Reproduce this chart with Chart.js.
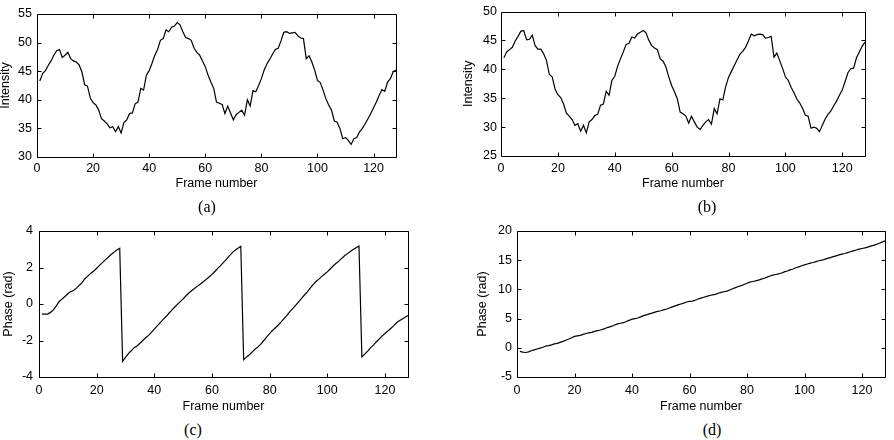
<!DOCTYPE html>
<html>
<head>
<meta charset="utf-8">
<script src="https://cdn.jsdelivr.net/npm/chart.js@4"></script>
<style>
  body { margin: 0; background: #fff; width: 894px; height: 440px; position: relative; overflow: hidden; }
  canvas { position: absolute; }
  .cap { position: absolute; font-family: "Liberation Serif", "Times New Roman", serif; font-size: 16px; color: #000; transform: translate(-50%, -50%); }
</style>
</head>
<body>
<canvas id="chartA"></canvas>
<canvas id="chartB"></canvas>
<canvas id="chartC"></canvas>
<canvas id="chartD"></canvas>
<div class="cap" style="left:207px;top:207px">(a)</div>
<div class="cap" style="left:707px;top:207px">(b)</div>
<div class="cap" style="left:193px;top:430px">(c)</div>
<div class="cap" style="left:712px;top:430px">(d)</div>
<script>
// frame numbers (x)
const frames = [1,2,3,4,5,6,7,8,9,10,11,12,13,14,15,16,17,18,19,20,21,22,23,24,25,26,27,28,29,30,31,32,
  33,34,35,36,37,38,39,40,41,42,43,44,45,46,47,48,49,50,51,52,53,54,55,56,57,58,59,60,61,62,63,64,
  65,66,67,68,69,70,71,72,73,74,75,76,77,78,79,80,81,82,83,84,85,86,87,88,89,90,91,92,93,94,95,96,
  97,98,99,100,101,102,103,104,105,106,107,108,109,110,111,112,113,114,115,116,117,118,119,120,121,122,123,124,125,126,127,128];

// (a) intensity
const intensityA = [43.3,44.6,45.1,46.0,46.8,47.8,48.6,48.8,47.4,47.8,48.3,47.2,46.8,46.6,46.1,44.9,
  42.6,42.4,40.3,39.5,39.1,38.2,36.7,36.3,35.8,35.1,35.3,34.4,35.3,34.2,36.0,36.5,
  37.6,37.7,39.3,39.6,42.0,41.7,44.3,45.1,46.4,47.8,48.8,50.4,50.7,52.2,51.9,52.7,
  52.9,53.5,53.1,51.9,50.9,50.7,50.4,49.0,48.3,47.8,46.8,45.8,44.3,43.1,42.0,39.6,
  39.4,39.2,37.6,38.9,37.7,36.5,37.4,37.8,38.2,37.3,40.0,38.9,41.6,41.4,42.5,43.7,
  45.2,46.3,47.1,48.0,48.8,49.0,50.3,51.8,51.9,51.6,51.7,51.8,51.2,50.8,50.7,47.2,
  47.7,46.6,45.2,43.4,43.0,41.7,40.2,39.1,38.2,36.3,36.1,35.0,33.2,33.4,32.9,32.2,
  33.2,33.4,34.4,35.0,35.8,36.7,37.6,38.6,39.6,40.8,41.8,41.5,43.1,43.7,44.9,45.2];

// (b) intensity
const intensityB = [42.0,43.0,43.4,43.8,44.9,45.7,46.6,46.7,45.1,45.2,45.9,44.1,43.5,43.5,42.7,41.5,
  39.1,38.7,36.6,35.6,35.1,34.0,32.4,31.9,31.3,30.3,30.6,29.3,30.3,29.0,30.9,31.3,
  32.0,32.2,33.8,34.0,36.2,35.5,38.1,38.8,40.5,41.8,43.0,44.3,44.5,45.6,45.4,46.1,
  46.4,46.7,46.3,45.0,44.1,43.7,43.4,41.8,41.4,40.4,38.7,37.2,36.1,34.9,32.6,32.3,
  31.9,30.7,31.9,30.9,30.0,29.6,30.3,30.9,31.3,30.5,33.2,32.3,34.9,34.7,37.0,38.6,
  39.6,40.6,41.6,42.6,43.1,43.8,44.9,46.1,45.8,46.0,46.1,46.0,45.4,45.5,45.7,42.1,
  42.8,41.5,40.2,38.7,38.1,36.9,36.0,34.9,34.2,33.3,32.1,31.9,29.8,30.0,29.8,29.2,
  30.3,31.4,32.2,32.8,33.7,34.5,35.5,36.4,37.9,39.4,40.1,40.2,42.0,43.0,44.0,44.7];

// (c) wrapped phase
const phaseC = [-0.55,-0.55,-0.55,-0.46,-0.32,-0.10,0.14,0.27,0.41,0.56,0.68,0.74,0.87,1.03,1.18,1.40,
  1.54,1.69,1.81,1.96,2.12,2.27,2.42,2.56,2.71,2.83,2.96,3.05,-3.14,-2.92,-2.72,-2.56,
  -2.40,-2.30,-2.15,-2.00,-1.85,-1.72,-1.55,-1.38,-1.20,-1.03,-0.86,-0.70,-0.52,-0.35,-0.18,-0.02,
  0.13,0.28,0.45,0.60,0.74,0.86,0.98,1.10,1.22,1.35,1.48,1.62,1.78,1.95,2.10,2.28,
  2.45,2.64,2.80,2.95,3.05,3.16,-3.05,-2.90,-2.78,-2.62,-2.47,-2.35,-2.18,-2.00,-1.80,-1.62,
  -1.45,-1.30,-1.15,-0.98,-0.80,-0.62,-0.42,-0.25,-0.08,0.10,0.30,0.48,0.65,0.85,1.05,1.22,
  1.35,1.50,1.63,1.76,1.92,2.08,2.22,2.35,2.50,2.64,2.76,2.88,2.98,3.08,3.18,-2.90,
  -2.75,-2.58,-2.40,-2.25,-2.08,-1.92,-1.76,-1.62,-1.48,-1.34,-1.20,-1.03,-0.92,-0.82,-0.72,-0.63];

// (d) unwrapped phase
const phaseD = [-0.60,-0.75,-0.80,-0.70,-0.50,-0.35,-0.20,-0.05,0.10,0.30,0.38,0.50,0.68,0.75,0.92,1.10,
  1.30,1.50,1.72,1.95,2.05,2.12,2.30,2.45,2.55,2.65,2.80,2.95,3.05,3.20,3.40,3.55,
  3.70,3.90,4.10,4.20,4.30,4.50,4.70,4.90,5.00,5.10,5.30,5.50,5.65,5.80,5.95,6.10,
  6.25,6.35,6.50,6.65,6.82,7.00,7.18,7.35,7.50,7.65,7.85,7.95,8.00,8.15,8.35,8.50,
  8.65,8.80,8.95,9.05,9.15,9.35,9.50,9.60,9.70,9.90,10.10,10.30,10.50,10.65,10.85,11.05,
  11.25,11.35,11.45,11.60,11.75,11.90,12.10,12.30,12.45,12.55,12.65,12.80,13.00,13.15,13.35,13.50,
  13.70,13.85,14.05,14.20,14.35,14.50,14.60,14.75,14.90,15.00,15.15,15.30,15.45,15.60,15.75,15.90,
  16.05,16.15,16.30,16.45,16.60,16.75,16.90,17.00,17.10,17.25,17.40,17.55,17.70,17.90,18.10,18.30];

// tick values
const xTicks = [0, 20, 40, 60, 80, 100, 120];
const yTicksA = [30, 35, 40, 45, 50, 55];
const yTicksB = [25, 30, 35, 40, 45, 50];
const yTicksC = [-4, -2, 0, 2, 4];
const yTicksD = [-5, 0, 5, 10, 15, 20];

Chart.defaults.font.family = '"Liberation Sans", Arial, sans-serif';
Chart.defaults.font.size = 12.5;
Chart.defaults.color = '#000';

// box with inward ticks on all sides (matlab look)
const boxPlugin = {
  id: 'box',
  afterDraw(chart) {
    const { ctx, chartArea: a, scales: { x, y } } = chart;
    const L = Math.round(a.left) + 0.5, R = Math.round(a.right) + 0.5;
    const T = Math.round(a.top) + 0.5, B = Math.round(a.bottom) + 0.5;
    const tl = 4;
    ctx.save();
    ctx.strokeStyle = '#000';
    ctx.lineWidth = 1;
    ctx.beginPath();
    ctx.rect(L, T, R - L, B - T);
    x.ticks.forEach(t => {
      const px = Math.round(x.getPixelForValue(t.value)) + 0.5;
      ctx.moveTo(px, B); ctx.lineTo(px, B - tl);
      ctx.moveTo(px, T); ctx.lineTo(px, T + tl);
    });
    y.ticks.forEach(t => {
      const py = Math.round(y.getPixelForValue(t.value)) + 0.5;
      ctx.moveTo(L, py); ctx.lineTo(L + tl, py);
      ctx.moveTo(R, py); ctx.lineTo(R - tl, py);
    });
    ctx.stroke();
    ctx.restore();
  }
};

function makePanel(id, values, yMin, yMax, yTicks, yTitle, g) {
  const cv = document.getElementById(id);
  cv.width = g.W; cv.height = g.H;
  cv.style.left = g.L + 'px'; cv.style.top = g.T + 'px';
  const yw = g.BL - g.L, xh = g.T + g.H - g.BB;
  return new Chart(cv, {
    type: 'line',
    data: {
      datasets: [{
        data: frames.map((f, i) => ({ x: f, y: values[i] })),
        borderColor: '#000', borderWidth: 1.2, pointRadius: 0, tension: 0, fill: false
      }]
    },
    options: {
      responsive: false, animation: false,
      layout: { padding: { top: g.BT - g.T, right: g.L + g.W - g.BR, left: 0, bottom: 0 } },
      plugins: { legend: { display: false }, tooltip: { enabled: false } },
      scales: {
        x: {
          type: 'linear', min: 0, max: 128,
          grid: { display: false, drawTicks: false }, border: { display: false },
          ticks: { padding: g.xPad, maxRotation: 0 },
          afterBuildTicks: s => { s.ticks = xTicks.map(v => ({ value: v })); },
          afterFit: s => { s.height = xh; },
          title: { display: true, text: 'Frame number', padding: 0 }
        },
        y: {
          min: yMin, max: yMax,
          grid: { display: false, drawTicks: false }, border: { display: false },
          ticks: { padding: g.yPad },
          afterBuildTicks: s => { s.ticks = yTicks.map(v => ({ value: v })); },
          afterFit: s => { s.width = yw; },
          title: { display: true, text: yTitle, padding: 0 }
        }
      }
    },
    plugins: [boxPlugin]
  });
}

makePanel('chartA', intensityA, 30, 55, yTicksA, 'Intensity',
  { L: -2, T: 0, W: 440, H: 191, BL: 37, BT: 14, BR: 396, BB: 157, xPad: 4, yPad: 5 });
makePanel('chartB', intensityB, 25, 50, yTicksB, 'Intensity',
  { L: 461, T: 0, W: 433, H: 191, BL: 501, BT: 11, BR: 865, BB: 156, xPad: 5, yPad: 4 });
makePanel('chartC', phaseC, -4, 4, yTicksC, 'Phase (rad)',
  { L: 1, T: 215, W: 440, H: 199, BL: 39, BT: 231, BR: 408, BB: 377, xPad: 6, yPad: 6 });
makePanel('chartD', phaseD, -5, 20, yTicksD, 'Phase (rad)',
  { L: 475, T: 215, W: 419, H: 199, BL: 517, BT: 231, BR: 885, BB: 377, xPad: 6, yPad: 5 });
</script>
</body>
</html>
